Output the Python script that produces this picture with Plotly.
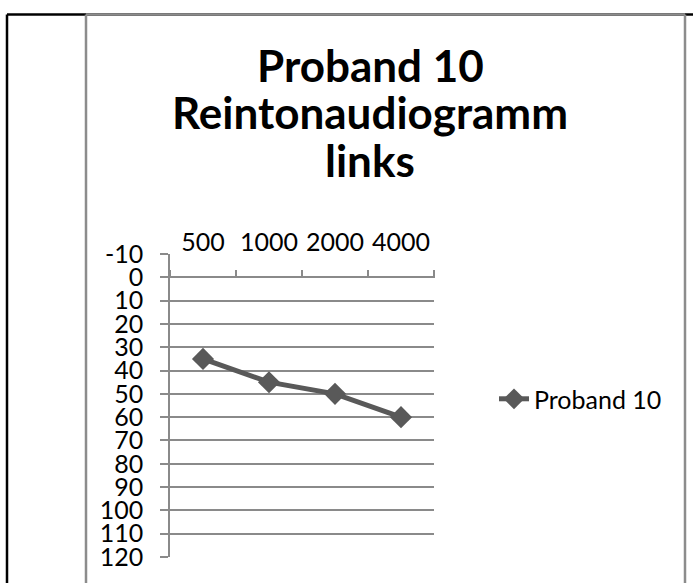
import plotly.graph_objects as go

# audiogram data (frequency in Hz, hearing level in dB)
frequencies = ["500", "1000", "2000", "4000"]
levels = [35, 45, 50, 60]
series_name = "Proband 10"
title_lines = ["Proband 10", "Reintonaudiogramm", "links"]
y_ticks = list(range(-10, 121, 10))
y_ticktext = [str(v) for v in y_ticks]   # plain hyphen for -10

W, H = 693, 583
L, R, T, B = 170, 434, 254, 559   # plot area in pixels


def px(x):
    return (x - L) / (R - L)


def py(y):
    return (B - y) / (B - T)


fig = go.Figure()
fig.add_trace(go.Scatter(
    x=frequencies, y=levels, name=series_name,
    mode="lines+markers",
    line=dict(color="#595959", width=5),
    marker=dict(symbol="diamond", size=17, color="#595959"),
    xaxis="x", yaxis="y",
))
# invisible copy on the second x axis so the tick axis at 0 gets categories
fig.add_trace(go.Scatter(
    x=frequencies, y=levels, xaxis="x2", yaxis="y",
    mode="markers", marker=dict(opacity=0), showlegend=False, hoverinfo="skip",
))

grid = "#8a8a8a"
font = "Lato, Calibri, sans-serif"
fs = 25

fig.update_layout(
    width=W, height=H,
    margin=dict(l=L, r=W - R, t=T, b=H - B),
    paper_bgcolor="white", plot_bgcolor="white",
    font=dict(family=font, size=fs, color="black"),
    xaxis=dict(
        type="category", side="top", range=[-0.5, 3.5],
        showgrid=False, showline=False, ticks="", zeroline=False,
        tickfont=dict(size=fs), ticklabelstandoff=-3,
    ),
    xaxis2=dict(
        type="category", overlaying="x", anchor="free",
        position=py(278), side="top", range=[-0.5, 3.5],
        tickson="boundaries", ticks="outside", ticklen=8, tickwidth=1.5,
        tickcolor=grid, showticklabels=False, showgrid=False, showline=False,
        zeroline=False,
    ),
    yaxis=dict(
        range=[120, -10], tickvals=y_ticks, ticktext=y_ticktext,
        ticks="outside", ticklen=8,
        tickwidth=1.5, tickcolor=grid, showgrid=True, gridcolor=grid,
        gridwidth=1.5, showline=True, linecolor=grid, linewidth=1.5,
        zeroline=False, tickfont=dict(size=fs), ticklabelstandoff=12,
    ),
    legend=dict(
        x=px(494), y=py(400), xanchor="left", yanchor="middle",
        font=dict(size=fs), bgcolor="rgba(0,0,0,0)",
    ),
    showlegend=True,
)

# title lines
for txt, yc in zip(title_lines, [64, 111, 159]):
    fig.add_annotation(
        text="<b>%s</b>" % txt, x=px(370), y=py(yc), xref="paper", yref="paper",
        showarrow=False, xanchor="center", yanchor="middle",
        font=dict(family=font, size=44, color="black"),
    )

# frame: table cell (black) and chart border (grey)
black = dict(color="black", width=2.5)
grey = dict(color="#8c8c8c", width=2.5)
fig.add_shape(type="line", xref="paper", yref="paper",
              x0=px(7), x1=px(700), y0=py(13), y1=py(13), line=black)
fig.add_shape(type="line", xref="paper", yref="paper",
              x0=px(7), x1=px(7), y0=py(13), y1=py(600), line=black)
fig.add_shape(type="line", xref="paper", yref="paper",
              x0=px(86), x1=px(685), y0=py(13), y1=py(13), line=grey)
fig.add_shape(type="line", xref="paper", yref="paper",
              x0=px(86), x1=px(86), y0=py(13), y1=py(600), line=grey)
fig.add_shape(type="line", xref="paper", yref="paper",
              x0=px(685), x1=px(685), y0=py(13), y1=py(600), line=grey)

# drop the page's default body margin so the figure sits at the corner
fig.write_html("out.html", config={"displayModeBar": False},
               post_script="document.body.style.margin='0px';")
